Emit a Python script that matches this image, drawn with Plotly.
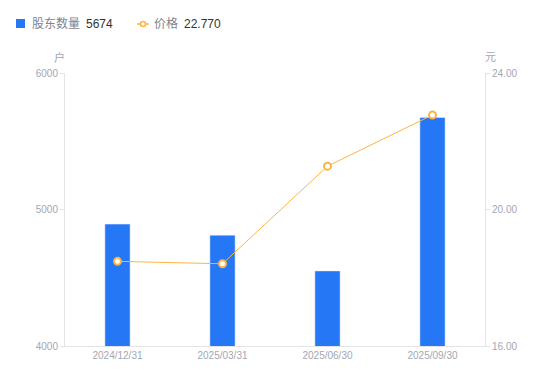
import plotly.graph_objects as go

categories = ["2024/12/31", "2025/03/31", "2025/06/30", "2025/09/30"]
holders = [4893, 4812, 4550, 5674]
prices = [18.48, 18.41, 21.27, 22.77]
left_ticks = [4000, 5000, 6000]
right_ticks = [16, 20, 24]
legend_names = ["股东数量", "价格"]
legend_values = ["5674", "22.770"]

BLUE = "#2677F6"
ORANGE = "#FDB440"
GREY = "#A3A6B4"
LINE = "#E3E4E8"
FONT = "Liberation Sans, Noto Sans CJK SC, sans-serif"

L, R, T, B = 65, 65, 73, 35
W, H = 550, 381
PW, PH = W - L - R, H - T - B


def px(x):
    return (x - L) / PW


def py(y):
    return (H - B - y) / PH


fig = go.Figure()
fig.add_trace(go.Bar(
    x=categories, y=holders, name=legend_names[0],
    marker=dict(color=BLUE), width=0.24, yaxis="y",
))
fig.add_trace(go.Scatter(
    x=categories, y=prices, name=legend_names[1],
    mode="lines+markers", yaxis="y2",
    line=dict(color=ORANGE, width=1),
    marker=dict(symbol="circle", size=7, color="white", line=dict(color=ORANGE, width=2)),
))

shapes = [
    dict(type="rect", xref="paper", yref="paper", x0=px(16), x1=px(25), y0=py(28), y1=py(19),
         fillcolor=BLUE, line=dict(width=0)),
    dict(type="line", xref="paper", yref="paper", x0=px(137), x1=px(149), y0=py(24), y1=py(24),
         line=dict(color=ORANGE, width=1.5)),
    dict(type="circle", xref="paper", yref="paper", x0=px(140.5), x1=px(145.5), y0=py(26.5), y1=py(21.5),
         fillcolor="white", line=dict(color=ORANGE, width=1.5)),
]

annotations = [
    dict(text=legend_names[0], x=px(30), y=py(24), xanchor="left", yanchor="middle",
         font=dict(size=12, color="#80838F")),
    dict(text=legend_values[0], x=px(84), y=py(24), xanchor="left", yanchor="middle",
         font=dict(size=12, color="#333333")),
    dict(text=legend_names[1], x=px(152), y=py(24), xanchor="left", yanchor="middle",
         font=dict(size=12, color="#80838F")),
    dict(text=legend_values[1], x=px(182), y=py(24), xanchor="left", yanchor="middle",
         font=dict(size=12, color="#333333")),
    dict(text="户", x=px(59), y=py(57), xanchor="center", yanchor="middle",
         font=dict(size=11, color=GREY)),
    dict(text="元", x=px(490), y=py(57), xanchor="center", yanchor="middle",
         font=dict(size=11, color=GREY)),
]
for a in annotations:
    a.update(xref="paper", yref="paper", showarrow=False)

fig.update_layout(
    width=W, height=H,
    margin=dict(l=L, r=R, t=T, b=B),
    paper_bgcolor="white", plot_bgcolor="white",
    font=dict(family=FONT, size=11, color=GREY),
    showlegend=False,
    xaxis=dict(showgrid=False, showline=True, linecolor=LINE, ticks="",
               tickfont=dict(size=10, color=GREY), zeroline=False),
    yaxis=dict(range=[4000, 6000], tickvals=left_ticks, showgrid=False, showline=True,
               linecolor=LINE, ticks="outside", tickcolor=LINE, ticklen=4,
               tickfont=dict(size=10, color=GREY), zeroline=False),
    yaxis2=dict(range=[16, 24], tickvals=right_ticks, tickformat=".2f", overlaying="y",
                side="right", showgrid=False, showline=True, linecolor=LINE,
                ticks="outside", tickcolor=LINE, ticklen=4,
                tickfont=dict(size=10, color=GREY), zeroline=False),
    shapes=shapes,
    annotations=annotations,
)

fig.write_html("out.html")
